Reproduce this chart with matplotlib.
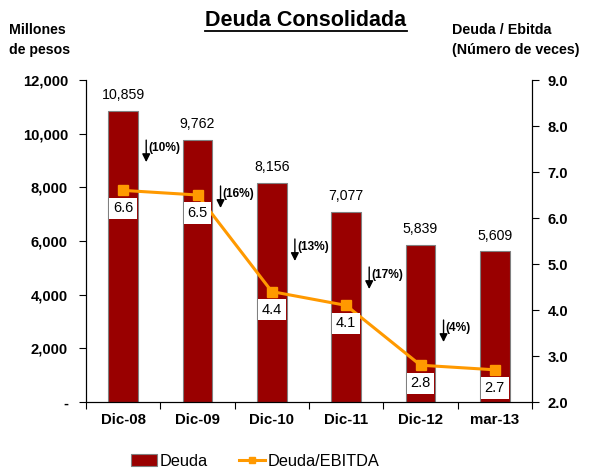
import numpy as np
import matplotlib.pyplot as plt
from matplotlib.lines import Line2D
from matplotlib.patches import Patch

plt.rcParams['font.family'] = ['Liberation Sans', 'DejaVu Sans']

periodos = ['Dic-08', 'Dic-09', 'Dic-10', 'Dic-11', 'Dic-12', 'mar-13']
deuda = [10859, 9762, 8156, 7077, 5839, 5609]
deuda_ebitda = [6.6, 6.5, 4.4, 4.1, 2.8, 2.7]
variacion = ['(10%)', '(16%)', '(13%)', '(17%)', '(4%)']
# top of each change arrow (left axis units)
flecha_y = [9760, 8050, 6075, 5030, 3055]

left_ticks = [0, 2000, 4000, 6000, 8000, 10000, 12000]
left_labels = ['-', '2,000', '4,000', '6,000', '8,000', '10,000', '12,000']
right_ticks = [2.0, 3.0, 4.0, 5.0, 6.0, 7.0, 8.0, 9.0]

rojo = '#990000'
naranja = '#FF9900'

fig = plt.figure(figsize=(6, 4.7), dpi=100)
ax = fig.add_axes([86/600, 1-402/470, 446/600, 322/470])
x = np.arange(len(periodos))

ax.bar(x, deuda, width=0.40, color=rojo, edgecolor='#808080', linewidth=0.8, zorder=2)
for xi, v in zip(x, deuda):
    ax.text(xi, v + 330, f'{v:,}', ha='center', va='bottom', fontsize=10.2)

ax.set_xlim(-0.5, len(periodos) - 0.5)
ax.set_ylim(0, 12000)
ax.set_yticks(left_ticks)
ax.set_yticklabels(left_labels, fontsize=10.6, fontweight='bold')
ax.set_xticks(np.arange(-0.5, len(periodos)))
ax.set_xticklabels([])
ax.set_xticks(x, minor=True)
ax.set_xticklabels(periodos, minor=True, fontsize=10.8, fontweight='bold')
ax.tick_params(axis='x', which='major', direction='out', length=5, width=0.8)
ax.tick_params(axis='x', which='minor', length=0, pad=8)
ax.tick_params(axis='y', direction='out', length=5, width=0.8, pad=8)
ax.spines['top'].set_visible(False)

for i, (txt, yt) in enumerate(zip(variacion, flecha_y)):
    xa = i + 0.31
    ax.annotate('', xy=(xa, yt - 820), xytext=(xa, yt),
                arrowprops=dict(arrowstyle='-|>', color='black', lw=1.0,
                                mutation_scale=12, shrinkA=0, shrinkB=0), zorder=4)
    ax.text(xa + 0.03, yt - 300, txt, ha='left', va='center', fontsize=8.6,
            fontweight='bold', zorder=4)

ax2 = ax.twinx()
ax2.plot(x, deuda_ebitda, color=naranja, lw=2.2, marker='s', markersize=6.5, zorder=3)
ax2.set_ylim(2.0, 9.0)
ax2.set_yticks(right_ticks)
ax2.set_yticklabels([f'{t:.1f}' for t in right_ticks], fontsize=10.6, fontweight='bold')
ax2.tick_params(axis='y', direction='out', length=5, width=0.8, pad=6)
ax2.spines['top'].set_visible(False)
for xi, v in zip(x, deuda_ebitda):
    ax2.annotate(f'{v:.1f}', xy=(xi, v), xytext=(0, -13), textcoords='offset points',
                 ha='center', va='center', fontsize=10.5, zorder=5,
                 bbox=dict(boxstyle='square,pad=0.25', fc='white', ec='none'))

t = fig.text(306/600, 1-21/470, 'Deuda Consolidada', ha='center', va='center',
             fontsize=15.5, fontweight='bold')
fig.canvas.draw()
bb = t.get_window_extent().transformed(fig.transFigure.inverted())
fig.add_artist(Line2D([bb.x0, bb.x1], [bb.y0 + 0.002, bb.y0 + 0.002],
                      transform=fig.transFigure, color='black', lw=1.3))

fig.text(9/600, 1-40/470, 'Millones\nde pesos', ha='left', va='center',
         fontsize=10.2, fontweight='bold', linespacing=1.5)
fig.text(452/600, 1-40/470, 'Deuda / Ebitda\n(Número de veces)', ha='left', va='center',
         fontsize=10.3, fontweight='bold', linespacing=1.5)

handles = [Patch(facecolor=rojo, edgecolor='#808080', linewidth=0.8),
           Line2D([], [], color=naranja, lw=2.2, marker='s', markersize=5)]
fig.legend(handles, ['Deuda', 'Deuda/EBITDA'], loc='center', ncol=2,
           bbox_to_anchor=(255/600, 1-461/470), frameon=False, fontsize=11.8,
           handlelength=1.6, handletextpad=0.15, columnspacing=1.9)

plt.savefig('out.png', dpi=100)
